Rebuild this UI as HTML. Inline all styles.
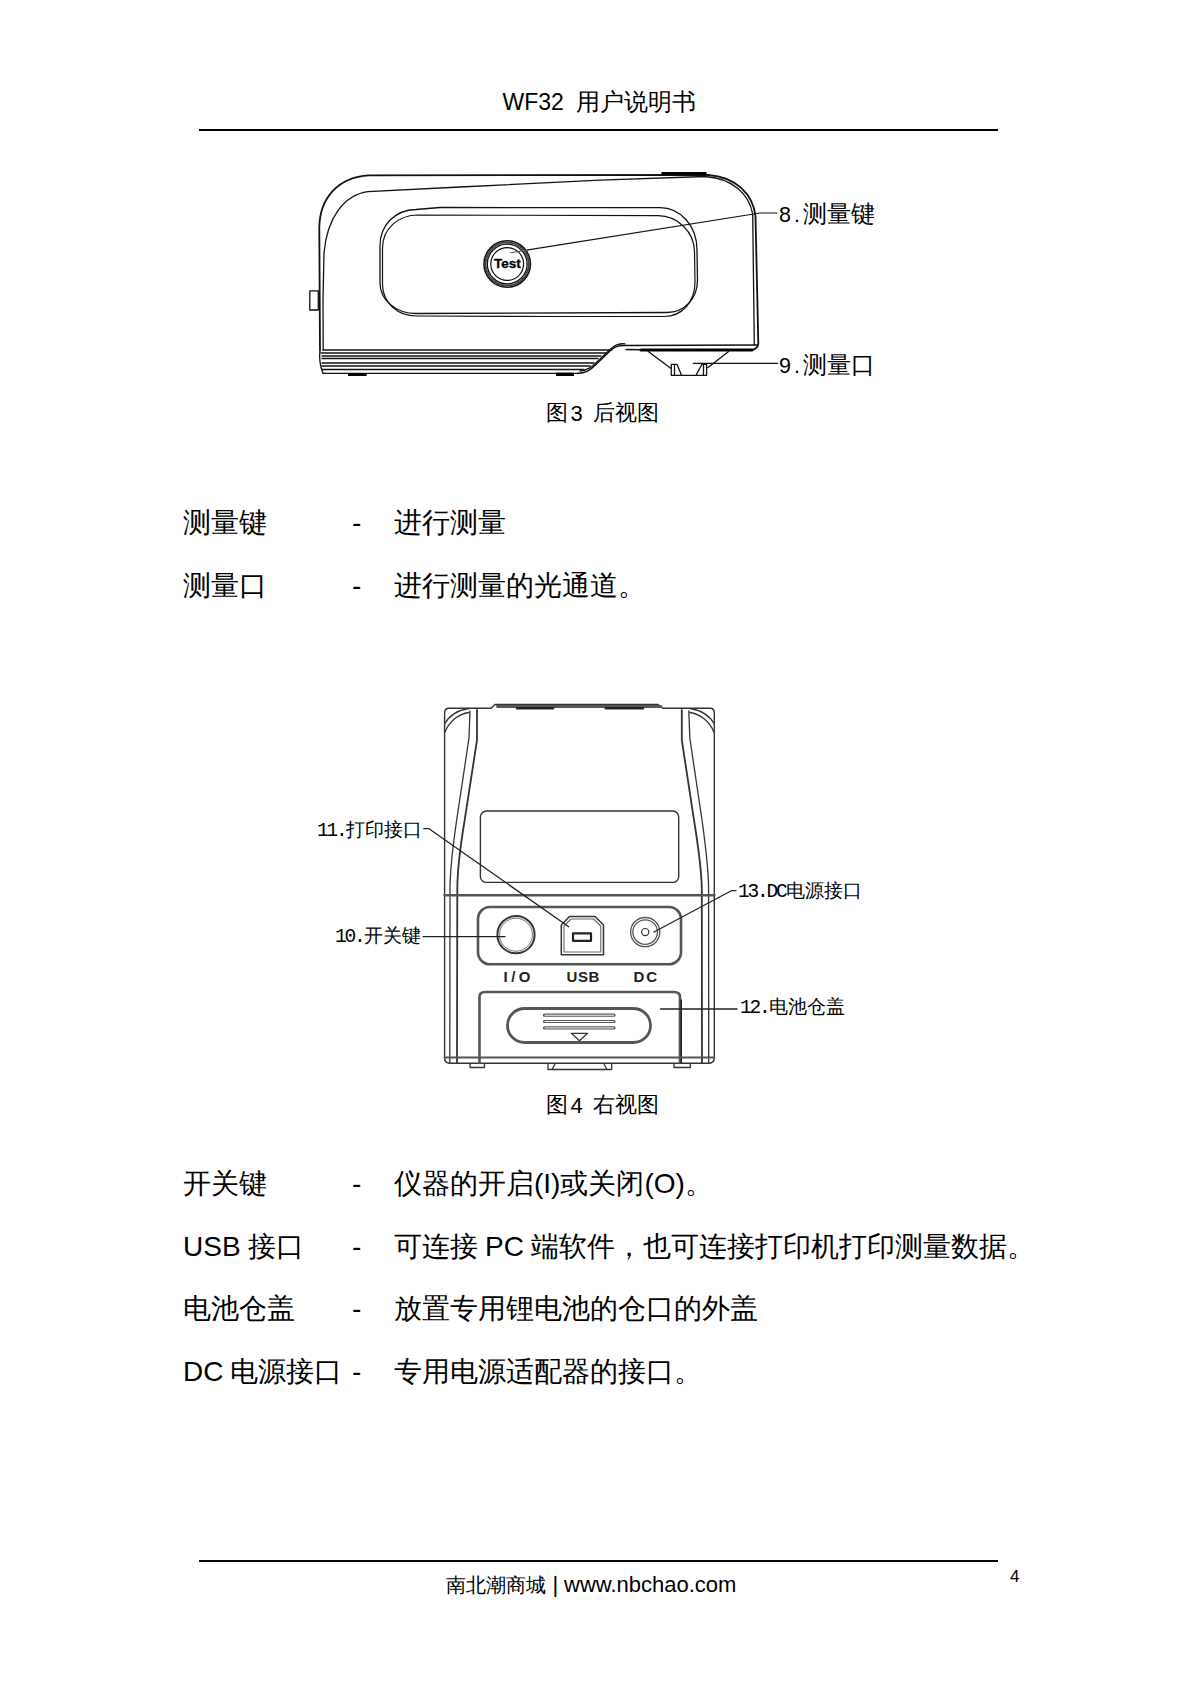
<!DOCTYPE html>
<html><head><meta charset="utf-8">
<style>
html,body{margin:0;padding:0;background:#fff;}
body{width:1200px;height:1697px;position:relative;overflow:hidden;font-family:"Liberation Serif",serif;color:#000;}
.t{position:absolute;white-space:nowrap;line-height:1;}
.sans{font-family:"Liberation Sans",sans-serif;}
.rule{position:absolute;left:199px;width:799px;height:2px;background:#000;}
.row{position:absolute;left:0;height:30px;font-size:28px;line-height:30px;white-space:nowrap;font-weight:300;}
.row>span{position:absolute;top:0;}
.c1{left:183px;}
.c2{left:352px;font-family:"Liberation Sans",sans-serif;}
.c3{left:394px;}
.lab{position:absolute;white-space:nowrap;font-family:"Liberation Mono",monospace;line-height:1;}
.m3{font-family:"Liberation Sans",sans-serif;font-size:21.5px;letter-spacing:3px;}
.k3{font-size:24px;}
.m4{font-size:19.5px;letter-spacing:-2.2px;}
.k4{font-size:19px;}
svg{position:absolute;left:0;top:0;}
</style></head>
<body>
<!-- header -->
<div class="t sans" style="left:502.5px;top:91px;font-size:23px;">WF32</div><div class="t" style="left:576px;top:90px;font-size:24px;font-weight:300;">用户说明书</div>
<div class="rule" style="top:129px;"></div>

<svg width="1200" height="1697" viewBox="0 0 1200 1697" fill="none" stroke="#000" stroke-width="1.5" stroke-linejoin="round" stroke-linecap="round">
<g id="fig3" stroke="#111">
 <!-- outer contour -->
 <path stroke-width="1.8" d="M320,350 L319.3,228 C319.5,198 338,177 369,175.3 L708,175 C737,177 753,195 755.5,216 L758.3,343 Q758.5,348.5 752,350"/>
 <!-- inner contour -->
 <path stroke-width="1.3" d="M323.2,350 L323,300 L324,253 C327,218 344,195 368,191.7 L460,187 L600,180.2 L705,176.5 C732,178 749,194 752.7,214 L754.3,344.7"/>
 <!-- top dark bar -->
 <rect x="661.5" y="172" width="45" height="3" fill="#000" stroke="none"/>
 <!-- side button -->
 <rect x="309.8" y="290.8" width="8.5" height="19.2" stroke-width="1.3"/>
 <!-- window -->
 <path stroke-width="1.3" d="M416,209.5 L440,207.5 L660,207.7 C681,208 697,226 697,250 L697.5,280 C697.5,299 684,312.5 667,312.5 L416,313.5 C396,313.5 380,300 380,283 L380,246 C380,225 395,210 416,209.5 Z"/>
 <path stroke-width="1.2" d="M418,215 L658,215.7 C678,216 694.5,232 694.5,252 L695,282 C695,302 682,316.5 664,316.5 L560,316.5 L416,316 C398,316 383,303 382.5,285 L382.5,248 C382.5,229 398,215 418,215 Z"/>
 <!-- stripes -->
 <path stroke-width="1.3" d="M323,350 L612,350 M321,353 L606,353 M322,356 L601,356 M322,358.5 L598,358.5 M322,363 L594,363 M322,366 L590,366 M322,369.5 L584,369.5 M323,373.3 L578,373.3"/>
 <path stroke-width="1.3" d="M320,350 Q318.5,362 323,373.3"/>
 <!-- S-curve and bottom plate -->
 <path stroke-width="1.4" d="M577,373.5 C586,373 590,370.5 596,364.5 L609,352 C614,347 617,345.5 625,345.5 L757,345"/>
 <path stroke-width="1.3" d="M580,371 C588,370 592,367 598,361 L610,349.5 C615,345 618,343.5 625,343.8"/>
 <path stroke-width="3" stroke="#000" d="M641,350 L752,350"/>
 <path stroke-width="1.4" d="M626,349.5 L641,349.8"/>
 <!-- feet -->
 <rect x="348" y="373" width="18.7" height="3" fill="#000" stroke="none"/>
 <rect x="556" y="372.7" width="18" height="3.3" fill="#000" stroke="none"/>
 <!-- port -->
 <path stroke-width="1.3" d="M648.3,351.5 L671,368.5 M728.6,351.5 L708,367.5 M671.3,375.3 L706.6,375.3 M671.3,375.3 L671.3,364.3 L677,364.3 L681.5,375.3 M674.5,365 L674.5,375 M706.6,375.3 L706.6,364.3 L702,364.3 L696,375.3 M703.5,365 L703.5,375"/>
 <!-- test button -->
 <circle cx="507.2" cy="264" r="23.2" stroke-width="1.6"/>
 <circle cx="507.2" cy="264" r="21.6" stroke-width="2" stroke="#444" stroke-dasharray="2 1.5"/>
 <circle cx="507.2" cy="264" r="19.9" stroke-width="1.3"/>
 <circle cx="507.2" cy="264" r="16.4" stroke-width="1.2"/>
 <text x="507.3" y="268.3" font-family="Liberation Sans" font-weight="bold" font-size="13.5" text-anchor="middle" fill="#000" stroke="#000" stroke-width="0.3">Test</text>
 <!-- leaders -->
 <path stroke-width="1.1" stroke="#555" d="M510.7,252.7 L528,249.9"/><path stroke-width="1.2" d="M528,249.9 L760,213 L777,213"/>
 <path stroke-width="1.2" d="M693.3,363.4 L777.4,363.4"/>
</g>

<g id="fig4" stroke="#333">
 <!-- body outline -->
 <path stroke-width="1.4" d="M444.6,1058 L444.6,713 Q444.6,708.3 449,708.3 L491,708.3 L495,704.5 L658,704.5 L663,708.3 L710,708.3 Q714.3,708.3 714.3,713 L714.3,1058 Q714.3,1063.3 708,1063.3 L451,1063.3 Q444.6,1063.3 444.6,1058 Z"/>
 <!-- top bar double -->
 <path stroke-width="1.2" stroke="#555" d="M497,707.3 L662,707.3"/>
 <path stroke-width="2.5" stroke="#222" d="M517,708.3 L553,708.3 M605.7,708.3 L643,708.3"/>
 <path stroke-width="2.2" stroke="#555" d="M497,706 L661,706"/>
 <!-- left edge inner lines -->
 <path stroke-width="1.3" d="M470,711 L469,738 L456.7,820 C453,845 450,870 450,890 L449.8,1063"/>
 <path stroke-width="1.8" d="M477,710 L477,740 L464.7,820 C460.5,845 457.3,870 457.3,890 L457,1063"/>
 <!-- right edge inner lines -->
 <path stroke-width="1.8" d="M681.8,710 L681.8,740 L694,820 C698,845 701.8,870 701.8,890 L702,1063"/>
 <path stroke-width="1.3" d="M688.8,711 L689.8,738 L702,820 C705.5,845 708.6,870 708.6,890 L708.7,1063"/>
 <!-- top corner arcs -->
 <path stroke-width="1.3" d="M469,708.5 C458,710 449,716 444.6,724 M469,712.5 C458,714 449,722 445,732"/>
 <path stroke-width="1.3" d="M689.8,708.5 C700.8,710 709.8,716 714.3,724 M689.8,712.5 C700.8,714 709.8,722 713.8,732"/>
 <!-- screen -->
 <rect x="480.4" y="811" width="198.3" height="71.4" rx="6" stroke-width="1.4"/>
 <!-- band line -->
 <path stroke-width="2.6" stroke="#555" d="M444.6,895.3 L714.3,895.3"/>
 <!-- control panel -->
 <rect x="478" y="907" width="203" height="57.3" rx="12" stroke-width="2.6" stroke="#555"/>
 <!-- power button -->
 <circle cx="516" cy="934.7" r="18.6" stroke-width="2" stroke="#333"/>
 <circle cx="516" cy="934.7" r="16.5" stroke-width="1" stroke="#777"/>
 <!-- usb -->
 <path stroke-width="1.5" d="M561.3,954.8 L561.3,925 L569.5,916.5 L595,916.5 L603.5,925 L603.5,954.8 Z"/>
 <path stroke-width="1.1" stroke="#666" d="M564,952 L564,926 L571,919 L593.5,919 L600.8,926 L600.8,952 Z"/>
 <rect x="573" y="933.4" width="18" height="7.4" stroke-width="2.2" stroke="#222"/>
 <!-- dc -->
 <circle cx="645.2" cy="932.1" r="14.6" stroke-width="1.3" stroke="#555"/>
 <circle cx="645.2" cy="932.1" r="12.3" stroke-width="1.3" stroke="#555"/>
 <circle cx="645.2" cy="932.1" r="3.6" stroke-width="1.2"/>
 <!-- battery cover -->
 <path stroke-width="2.6" stroke="#555" d="M479.5,1063 L479.5,997 Q479.5,992 485,992 L674,992 Q680,992 680,997 L680,1063"/>
 <path stroke-width="1.3" stroke="#111" d="M681.3,1000 L681.3,1063"/>
 <!-- latch pill -->
 <path stroke-width="2.8" stroke="#555" d="M525,1008.5 L633,1008.5 C643,1008.5 650.5,1016 650.5,1025.5 C650.5,1035 643,1042.5 633,1042.5 L525,1042.5 C515,1042.5 507.5,1035 507.5,1025.5 C507.5,1016 515,1008.5 525,1008.5 Z"/>
 <!-- grille -->
 <path stroke-width="3.2" stroke="#555" d="M544.5,1015.2 L614,1015.2 M544.5,1021.5 L614,1021.5 M544.5,1027.9 L614,1027.9"/>
 <path stroke-width="1" stroke="#fff" d="M545,1015.2 L613.5,1015.2 M545,1021.5 L613.5,1021.5 M545,1027.9 L613.5,1027.9"/>
 <path stroke-width="1.2" d="M571.3,1033.3 L587.6,1033.3 L579.5,1040.8 Z"/>
 <!-- base -->
 <path stroke-width="2" stroke="#555" d="M444.6,1057.6 L714.3,1057.6"/>
 <!-- feet -->
 <path stroke-width="1.3" d="M470,1064 L470,1067.5 L484.5,1067.5 L484.5,1064 M674,1064 L674,1067.5 L690.3,1067.5 L690.3,1064 M548,1064 L548,1069.5 L611.7,1069.5 L611.7,1064 M555,1064 L552,1069.5 M604,1064 L607,1069.5"/>
 <!-- leaders -->
 <path stroke-width="1.3" stroke="#222" d="M423.8,828.7 L429,828.7 L568.7,926.7"/>
 <path stroke-width="1.3" stroke="#222" d="M423,936.6 L505,936.6"/>
 <path stroke-width="1.3" stroke="#222" d="M654,932 L731.3,890.7 L736,890.7"/>
 <path stroke-width="1.3" stroke="#222" d="M660.6,1009 L737,1009"/>
 <!-- labels -->
 <g fill="#222" stroke="none" font-family="Liberation Sans" font-weight="bold" font-size="15">
  <text x="503.5" y="981.5" letter-spacing="3.5">I/O</text>
  <text x="566.5" y="981.5" letter-spacing="0.6">USB</text>
  <text x="633.5" y="981.5" letter-spacing="2">DC</text>
 </g>
</g>
</svg>

<!-- figure 3 labels -->
<div class="lab" style="left:779px;top:203.5px;"><span class="m3">8.</span><span class="k3">测量键</span></div>
<div class="lab" style="left:779px;top:355px;"><span class="m3">9.</span><span class="k3">测量口</span></div>
<div class="t" style="left:545.5px;top:402.5px;font-size:21.5px;font-weight:300;">图</div><div class="t sans" style="left:570.5px;top:403px;font-size:22px;">3</div><div class="t" style="left:592.5px;top:402.5px;font-size:21.5px;font-weight:300;">后视图</div>

<!-- text rows -->
<div class="row" style="top:508px;"><span class="c1">测量键</span><span class="c2">-</span><span class="c3">进行测量</span></div>
<div class="row" style="top:571px;"><span class="c1">测量口</span><span class="c2">-</span><span class="c3">进行测量的光通道。</span></div>

<!-- figure 4 labels -->
<div class="lab" style="left:317px;top:821.5px;"><span class="m4">11.</span><span class="k4">打印接口</span></div>
<div class="lab" style="left:335px;top:927.5px;"><span class="m4">10.</span><span class="k4">开关键</span></div>
<div class="lab" style="left:738px;top:882.5px;"><span class="m4">13.DC</span><span class="k4">电源接口</span></div>
<div class="lab" style="left:740px;top:998.5px;"><span class="m4">12.</span><span class="k4">电池仓盖</span></div>
<div class="t" style="left:545.5px;top:1094.5px;font-size:21.5px;font-weight:300;">图</div><div class="t sans" style="left:570.5px;top:1095px;font-size:22px;">4</div><div class="t" style="left:592.5px;top:1094.5px;font-size:21.5px;font-weight:300;">右视图</div>

<div class="row" style="top:1169px;"><span class="c1">开关键</span><span class="c2">-</span><span class="c3">仪器的开启<span class="sans">(I)</span>或关闭<span class="sans">(O)</span>。</span></div>
<div class="row" style="top:1232px;"><span class="c1"><span class="sans">USB</span> 接口</span><span class="c2">-</span><span class="c3">可连接 <span class="sans">PC</span> 端软件，也可连接打印机打印测量数据。</span></div>
<div class="row" style="top:1294px;"><span class="c1">电池仓盖</span><span class="c2">-</span><span class="c3">放置专用锂电池的仓口的外盖</span></div>
<div class="row" style="top:1357px;"><span class="c1"><span class="sans">DC</span> 电源接口</span><span class="c2">-</span><span class="c3">专用电源适配器的接口。</span></div>

<!-- footer -->
<div class="rule" style="top:1560px;"></div>
<div class="t sans" style="left:446px;top:1574.5px;font-size:20px;">南北潮商城</div><div class="t sans" style="left:552.5px;top:1574px;font-size:22px;">|</div><div class="t sans" style="left:564px;top:1574px;font-size:22px;">www.nbchao.com</div>
<div class="t sans" style="left:1010px;top:1568px;font-size:17px;">4</div>
</body></html>
